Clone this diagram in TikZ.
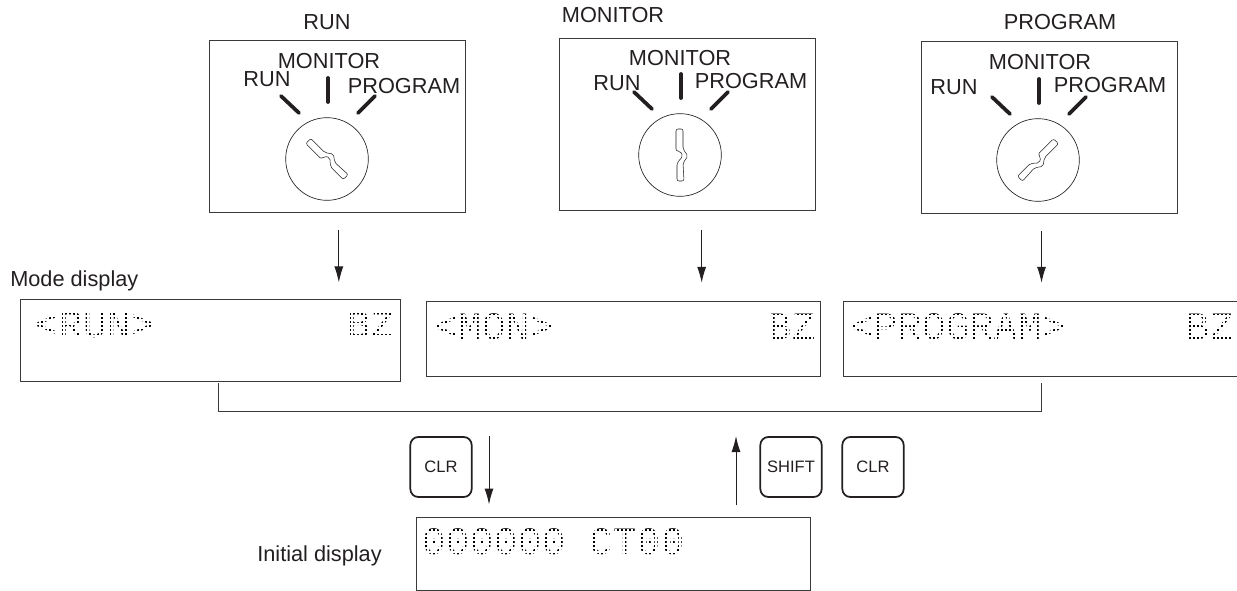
\documentclass[tikz,border=0pt]{standalone}
\usepackage{fontspec}
\usepackage{xcolor}
\usetikzlibrary{positioning, arrows.meta}
\setmainfont{Liberation Sans}
\newfontfamily\lcdfont[LetterSpace=2]{Liberation Mono}
\definecolor{InkGrey}{HTML}{231F20}
\definecolor{LineGrey}{HTML}{3A3A3A}
\newcommand{\keyslot}[2]{%
  \draw[InkGrey, thin, rounded corners=1.5pt, rotate around={#2:(#1.center)}, shift={(#1.center)}]
    (-4,-26) -- (3,-26) -- (3,-6) -- (8,1) -- (3,8) -- (4,26) -- (-3,26) -- (-3,8) -- (3,1) -- (0,-4) -- (-4,-4) -- cycle;}
\begin{document}
\begin{tikzpicture}[
            x=0.75pt, y=-0.75pt,
            panel/.style={draw=LineGrey, line width=0.75pt, inner sep=0pt, minimum width=192pt, minimum height=129pt},
            knob/.style={circle, draw=InkGrey, line width=0.5pt, inner sep=0pt, minimum size=62pt},
            screen/.style={draw=LineGrey, line width=0.75pt, inner sep=0pt},
            caption/.style={text=InkGrey, inner sep=0pt, font=\fontsize{16.3}{16.3}\selectfont},
            lcd/.style={text=black, inner sep=0pt, anchor=west, font=\lcdfont\fontsize{29}{29}\selectfont},
            lcdmask/.style={white, line width=0.95pt, step=3pt},
            keycap/.style={draw=InkGrey, line width=1.3pt, rounded corners=6pt, inner sep=0pt, minimum width=46pt, minimum height=45pt, text=InkGrey, font=\fontsize{12.4}{12.4}\selectfont},
            tick/.style={line width=2.8pt, InkGrey, line cap=round},
            arrow/.style={-{Latex[length=12pt, width=6.75pt]}, line width=0.75pt, InkGrey}
        ]
            \useasboundingbox (0,0) rectangle (1237,591);

            % switch panels
            \node[panel] (runbox) at (337.5,127) {};
            \node[panel] (monbox) at (687,125) {};
            \node[panel] (progbox) at (1049.5,127.5) {};
            \node[caption] (runtitle) at (327,22) {RUN};
            \node[caption] (montitle) at (613,15) {MONITOR};
            \node[caption] (progtitle) at (1060,22) {PROGRAM};

            \node[knob] (runknob) at (327,159) {};
            \node[knob] (monknob) at (680,155) {};
            \node[knob] (progknob) at (1038,160) {};
            \keyslot{runknob}{45}
            \keyslot{monknob}{0}
            \keyslot{progknob}{-45}

            \node[caption] (runa) at (267,79) {RUN};
            \node[caption] (runb) at (329,61) {MONITOR};
            \node[caption] (runc) at (404,86) {PROGRAM};
            \node[caption] (mona) at (617,83) {RUN};
            \node[caption] (monb) at (680,58) {MONITOR};
            \node[caption] (monc) at (751,81) {PROGRAM};
            \node[caption] (proga) at (954,87) {RUN};
            \node[caption] (progb) at (1040,62) {MONITOR};
            \node[caption] (progc) at (1110,85) {PROGRAM};

            \draw[tick] ([shift={(-46,-63)}]runknob.center) -- ++(18,17);
            \draw[tick] ([shift={(1,-81)}]runknob.center) -- ++(0,24);
            \draw[tick] ([shift={(48,-63)}]runknob.center) -- ++(-17,17);
            \draw[tick] ([shift={(-46,-63)}]monknob.center) -- ++(18,17);
            \draw[tick] ([shift={(1,-81)}]monknob.center) -- ++(0,24);
            \draw[tick] ([shift={(48,-63)}]monknob.center) -- ++(-17,17);
            \draw[tick] ([shift={(-46,-63)}]progknob.center) -- ++(18,17);
            \draw[tick] ([shift={(1,-81)}]progknob.center) -- ++(0,24);
            \draw[tick] ([shift={(48,-63)}]progknob.center) -- ++(-17,17);

            % mode displays
            \node[caption, anchor=west] (modelabel) at (10,281) {Mode display};
            \node[screen, minimum width=285pt, minimum height=60.75pt] (rundisp) at (210,340.5) {};
            \node[screen, minimum width=295.5pt, minimum height=55.5pt] (mondisp) at (623,339) {};
            \node[screen, minimum width=300pt, minimum height=55.5pt, anchor=west] (progdisp) at (843,339) {};

            \node[lcd] (runtext) at (35,325) {<RUN>};
            \node[lcd] (runbz) at (347,325) {BZ};
            \node[lcd] (montext) at (434,327) {<MON>};
            \node[lcd] (monbz) at (768,327) {BZ};
            \node[lcd] (progtext) at (850,327) {<PROGRAM>};
            \node[lcd] (progbz) at (1186,327) {BZ};
            \node[lcd] (inittext) at (422,542) {000000 CT00};

            % dot matrix look of the displays
            \draw[lcdmask] (runtext.north west) grid (runtext.south east);
            \draw[lcdmask] (runbz.north west) grid (runbz.south east);
            \draw[lcdmask] (montext.north west) grid (montext.south east);
            \draw[lcdmask] (monbz.north west) grid (monbz.south east);
            \draw[lcdmask] (progtext.north west) grid (progtext.south east);
            \draw[lcdmask] (progbz.north west) grid (progbz.south east);
            \draw[lcdmask] (inittext.north west) grid (inittext.south east);

            \draw[arrow, shorten <=12.75pt, shorten >=12.75pt] ([xshift=1pt]runbox.south) -- ([xshift=1pt]runbox.south |- rundisp.north);
            \draw[arrow, shorten <=14pt, shorten >=14pt] ([xshift=11pt]monbox.south) -- ([xshift=11pt]monbox.south |- mondisp.north);
            \draw[arrow, shorten <=12.75pt, shorten >=14pt] ([xshift=-6pt]progbox.south) -- ([xshift=-6pt]progbox.south |- progdisp.north);

            % bracket
            \coordinate (brackl) at (218,383);
            \coordinate (brackr) at (1041,383);
            \draw[line width=0.75pt, LineGrey] (brackl) -- ++(0,28) -| (brackr);

            % keys and initial display
            \node[keycap] (clra) at (441,467) {CLR};
            \node[keycap] (shiftkey) at (791,467) {SHIFT};
            \node[keycap] (clrb) at (873,467) {CLR};
            \node[screen, minimum width=295.5pt, minimum height=54.75pt] (initdisp) at (613,553.5) {};
            \node[caption, anchor=east] (initlabel) at (382,556) {Initial display};

            \coordinate (downtop) at (489,436);
            \coordinate (uptop) at (736,436);
            \draw[arrow, shorten >=9pt] (downtop) -- (downtop |- initdisp.north);
            \draw[arrow, shorten <=9pt] (uptop |- initdisp.north) -- (uptop);
        \end{tikzpicture}
\end{document}
